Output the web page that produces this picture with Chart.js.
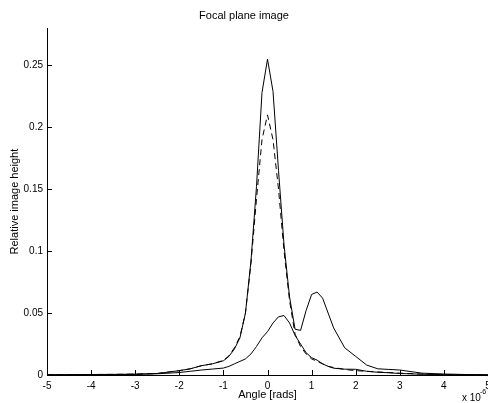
<!DOCTYPE html>
<html>
<head>
<meta charset="utf-8">
<script src="https://cdn.jsdelivr.net/npm/chart.js@4.4.1/dist/chart.umd.min.js"></script>
<style>
  html, body { margin: 0; padding: 0; background: #fff; }
  #wrap { width: 488px; height: 403px; }
</style>
</head>
<body>
<div id="wrap"><canvas id="myChart" width="488" height="403"></canvas></div>
<script>
"use strict";

// angle samples, in units of 1e-6 rad
var angles = [-5, -4.5, -4, -3.5, -3, -2.5, -2, -1.75, -1.5, -1.25, -1, -0.875, -0.75, -0.625, -0.5, -0.375, -0.25, -0.125,
    0, 0.125, 0.25, 0.375, 0.5, 0.625, 0.75, 0.875, 1, 1.125, 1.25, 1.375, 1.5, 1.75, 2, 2.25, 2.5, 2.75, 3, 3.5, 4, 4.5, 5];

// tall solid curve (with the shoulder near 1.1)
var solidPeak = [0.0002, 0.0003, 0.0004, 0.0005, 0.0007, 0.0012, 0.0035, 0.005, 0.0075, 0.009, 0.0115, 0.015, 0.021, 0.03, 0.05, 0.092, 0.152, 0.228,
    0.255, 0.229, 0.165, 0.105, 0.063, 0.037, 0.036, 0.052, 0.065, 0.067, 0.062, 0.05, 0.038, 0.022, 0.015, 0.008, 0.005, 0.0045, 0.004, 0.0015, 0.0008, 0.0004, 0.0002];

// dashed curve
var dashedPeak = [0.0002, 0.0003, 0.0004, 0.0005, 0.0007, 0.0012, 0.0035, 0.005, 0.0075, 0.009, 0.0118, 0.0155, 0.022, 0.031, 0.05, 0.09, 0.142, 0.19,
    0.21, 0.19, 0.15, 0.1, 0.06, 0.033, 0.023, 0.017, 0.013, 0.011, 0.009, 0.007, 0.006, 0.0045, 0.0035, 0.003, 0.0025, 0.002, 0.0015, 0.0008, 0.0004, 0.0002, 0.0001];

// broad hump
var broadHump = [0.0001, 0.0001, 0.0002, 0.0003, 0.0005, 0.001, 0.002, 0.003, 0.004, 0.0048, 0.0056, 0.007, 0.009, 0.011, 0.013, 0.017, 0.023, 0.03,
    0.035, 0.042, 0.047, 0.048, 0.042, 0.032, 0.025, 0.018, 0.014, 0.012, 0.009, 0.007, 0.0055, 0.0047, 0.0046, 0.003, 0.0022, 0.0018, 0.0012, 0.0006, 0.0003, 0.0002, 0.0001];

var yTicks = [0, 0.05, 0.1, 0.15, 0.2, 0.25];

function pts(ys) {
    return angles.map(function (a, i) { return { x: a, y: ys[i] }; });
}

// matlab style inward ticks + the exponent note
var matlabAxes = {
    id: 'matlabAxes',
    afterDatasetsDraw: function (chart) {
        var ctx = chart.ctx, area = chart.chartArea, x = chart.scales.x, y = chart.scales.y;
        ctx.save();
        ctx.strokeStyle = '#000';
        ctx.lineWidth = 1;
        ctx.beginPath();
        x.ticks.forEach(function (t) {
            var px = Math.round(x.getPixelForValue(t.value)) + 0.5;
            ctx.moveTo(px, area.bottom);
            ctx.lineTo(px, area.bottom - 5);
        });
        y.ticks.forEach(function (t) {
            var py = Math.round(y.getPixelForValue(t.value)) + 0.5;
            ctx.moveTo(area.left, py);
            ctx.lineTo(area.left + 5, py);
        });
        ctx.stroke();
        ctx.fillStyle = '#000';
        ctx.textBaseline = 'alphabetic';
        ctx.textAlign = 'left';
        ctx.font = '10px "Liberation Sans", Arial, sans-serif';
        ctx.fillText('x 10', 462, 401);
        ctx.font = '7px "Liberation Sans", Arial, sans-serif';
        ctx.fillText('-6', 480, 394);
        ctx.restore();
    }
};

var ctx = document.getElementById('myChart').getContext('2d');

var myChart = new Chart(ctx, {
    type: 'line',
    data: {
        datasets: [{
            data: pts(solidPeak),
            borderColor: '#000',
            borderWidth: 1
        }, {
            data: pts(dashedPeak),
            borderColor: '#000',
            borderWidth: 1,
            borderDash: [6, 4]
        }, {
            data: pts(broadHump),
            borderColor: '#000',
            borderWidth: 1
        }]
    },
    options: {
        responsive: false,
        animation: false,
        events: [],
        elements: { point: { radius: 0 }, line: { tension: 0 } },
        layout: { padding: 0 },
        plugins: {
            legend: { display: false },
            tooltip: { enabled: false },
            title: {
                display: true,
                text: 'Focal plane image',
                color: '#000',
                font: { family: '"Liberation Sans", Arial, sans-serif', size: 11, weight: 'normal' },
                padding: { top: 9, bottom: 6 }
            }
        },
        scales: {
            x: {
                type: 'linear',
                min: -5,
                max: 5,
                border: { display: true, color: '#000', width: 1 },
                grid: { display: false, drawTicks: false },
                ticks: {
                    stepSize: 1,
                    padding: 5,
                    color: '#000',
                    maxRotation: 0,
                    font: { family: '"Liberation Sans", Arial, sans-serif', size: 10 }
                },
                title: {
                    display: true,
                    text: 'Angle [rads]',
                    color: '#000',
                    font: { family: '"Liberation Sans", Arial, sans-serif', size: 11 },
                    padding: { top: 0, bottom: 1 }
                },
                afterFit: function (s) { s.height = 28; s.paddingRight = 0; }
            },
            y: {
                type: 'linear',
                min: 0,
                max: 0.28,
                border: { display: true, color: '#000', width: 1 },
                grid: { display: false, drawTicks: false },
                ticks: {
                    padding: 4,
                    color: '#000',
                    font: { family: '"Liberation Sans", Arial, sans-serif', size: 10 },
                    callback: function (v) { return String(Math.round(v * 100) / 100); }
                },
                afterBuildTicks: function (s) {
                    s.ticks = yTicks.map(function (v) { return { value: v }; });
                },
                title: {
                    display: true,
                    text: 'Relative image height',
                    color: '#000',
                    font: { family: '"Liberation Sans", Arial, sans-serif', size: 11 },
                    padding: { top: 8, bottom: 0 }
                },
                afterFit: function (s) { s.width = 47; }
            }
        }
    },
    plugins: [matlabAxes]
});
</script>
</body>
</html>
